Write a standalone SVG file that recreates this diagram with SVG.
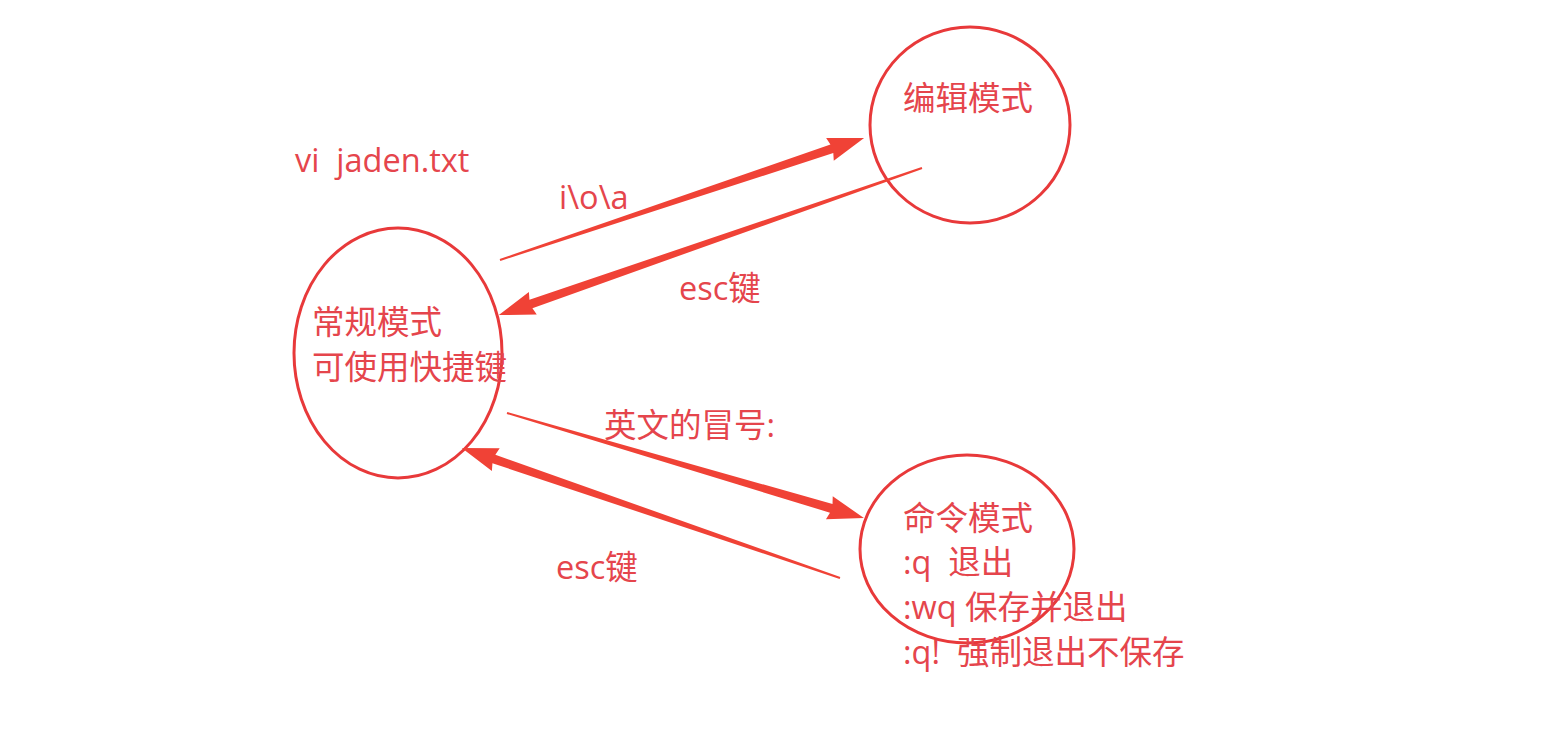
<svg xmlns="http://www.w3.org/2000/svg" width="1559" height="754" viewBox="0 0 1559 754">
  <style>
    .node { fill: none; stroke: #e8393a; stroke-width: 3; }
    .lbl { font-family: "Open Sans", "Noto Sans CJK SC", sans-serif; font-size: 32.5px; fill: #e5454c; white-space: pre; }
    .arrow { fill: #f04236; }
  </style>
  <rect width="1559" height="754" fill="#ffffff"/>

  <text class="lbl" x="295" y="172">vi  jaden.txt</text>

  <g id="normal-mode">
    <ellipse class="node" cx="398" cy="353" rx="104" ry="125"/>
    <text class="lbl" x="312" y="334">常规模式</text>
    <text class="lbl" x="312" y="379">可使用快捷键</text>
  </g>

  <g id="edit-mode">
    <ellipse class="node" cx="970" cy="125" rx="100" ry="98"/>
    <text class="lbl" x="903" y="110">编辑模式</text>
  </g>

  <g id="command-mode">
    <ellipse class="node" cx="967" cy="549" rx="107" ry="94"/>
    <text class="lbl" x="903" y="530">命令模式</text>
    <text class="lbl" x="903" y="574">:q  退出</text>
    <text class="lbl" x="903" y="619">:wq 保存并退出</text>
    <text class="lbl" x="903" y="664">:q!  强制退出不保存</text>
  </g>

  <!-- tapered arrows: drawn along +x from the tail, then rotated into place -->
  <g id="connectors">
    <polygon class="arrow" transform="translate(500,260) rotate(-18.53)" points="0,-1 350,-4.5 348,-12 384,0 348,12 350,4.5 0,1"/>
    <polygon class="arrow" transform="translate(922,168) rotate(160.84)" points="0,-1 414,-4.5 412,-12 448,0 412,12 414,4.5 0,1"/>
    <polygon class="arrow" transform="translate(507,413) rotate(16.39)" points="0,-1 338,-4.5 336,-12 372,0 336,12 338,4.5 0,1"/>
    <polygon class="arrow" transform="translate(840,578) rotate(-161.02)" points="0,-1 366,-4.5 364,-12 400,0 364,12 366,4.5 0,1"/>
    <text class="lbl" x="559" y="209">i\o\a</text>
    <text class="lbl" x="679" y="300">esc键</text>
    <text class="lbl" x="604" y="437">英文的冒号:</text>
    <text class="lbl" x="556" y="579">esc键</text>
  </g>
</svg>
